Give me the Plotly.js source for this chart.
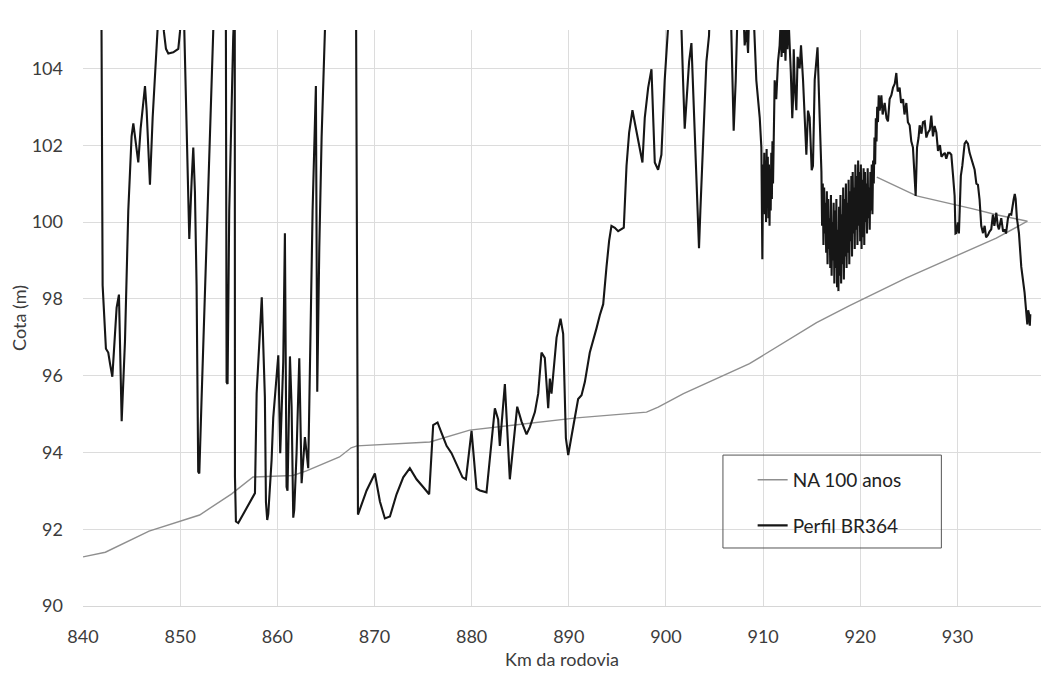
<!DOCTYPE html>
<html>
<head>
<meta charset="utf-8">
<script src="https://cdn.plot.ly/plotly-3.0.1.min.js"></script>
<style>
html,body{margin:0;padding:0;background:#fff;}
#chart{width:1055px;height:678px;}
</style>
</head>
<body>
<div id="chart"></div>
<script>
// Series names
var seriesNames = ['NA 100 anos', 'Perfil BR364'];

// NA 100 anos (water level, 100-year return period)
var kmNA = [840.0, 842.3, 846.8, 852.0, 855.3, 857.5, 861.6, 863.0, 866.4, 867.6, 868.2, 875.7, 879.8, 890.8, 898.0, 899.2, 901.8, 908.6, 915.5, 918.9, 924.7, 931.6, 934.0, 937.2, 934.0, 931.6, 928.9, 925.8, 921.7];
var cotaNA = [91.28, 91.40, 91.95, 92.37, 92.92, 93.36, 93.40, 93.52, 93.88, 94.12, 94.17, 94.27, 94.58, 94.90, 95.05, 95.18, 95.53, 96.31, 97.38, 97.82, 98.54, 99.32, 99.58, 100.02, 100.19, 100.34, 100.49, 100.68, 101.17];

// Perfil BR364 (road profile)
var kmPerfil = [
841.88,841.95,842.02,842.36,842.60,842.78,843.02,843.46,843.70,843.98,844.32,844.66,845.00,845.18,845.45,845.69,845.93,846.21,846.38,846.55,846.89,847.17,847.51,847.85,848.15,848.33,848.54,848.78,849.29,849.81,849.98,850.15,850.35,850.60,850.84,850.94,851.18,851.35,851.52,851.69,851.86,851.97,852.21,852.65,853.06,853.51,854.70,854.78,854.88,855.05,855.46,855.55,855.62,855.64,855.74,855.98,856.49,857.01,857.70,857.87,858.21,858.40,858.72,858.83,858.96,859.07,859.41,859.58,860.10,860.30,860.61,860.78,860.95,861.05,861.30,861.47,861.64,861.74,861.98,862.26,862.50,862.60,862.84,863.18,863.36,863.63,863.97,864.11,864.32,864.56,865.00,868.10,868.30,
869.19,870.04,870.56,871.07,871.59,872.27,872.96,873.64,874.33,875.01,875.63,876.04,876.49,876.90,877.42,877.93,878.44,879.06,879.41,879.99,880.50,880.85,881.53,882.39,882.73,882.90,883.42,883.93,884.69,885.13,885.65,885.99,886.51,886.85,887.19,887.53,887.88,888.05,888.22,888.74,889.15,889.42,889.70,889.94,890.28,890.62,890.96,891.31,891.65,892.16,892.51,892.85,893.19,893.54,893.88,894.15,894.39,894.74,895.08,895.66,895.94,896.21,896.55,896.97,897.31,897.58,897.82,898.17,898.51,898.85,899.19,899.53,899.87,900.22,900.40,901.50,901.59,901.76,901.93,902.10,902.38,902.62,902.79,903.13,903.40,903.54,903.82,904.16,904.43,904.55,906.65,906.73,906.83,906.97,907.18,907.31,907.40,907.93,908.10,908.30,908.45,908.60,908.96,909.30,909.65,909.82,909.92,
910.00,910.06,910.12,910.18,910.24,910.30,910.36,910.42,910.48,910.54,910.60,910.66,910.72,910.78,910.84,910.90,910.96,911.02,911.19,911.35,911.53,911.70,911.80,911.90,912.00,912.10,912.20,912.30,912.40,912.50,912.60,912.73,912.85,913.00,913.08,913.15,913.25,913.42,913.55,913.76,913.90,914.11,914.28,914.45,914.62,914.79,915.00,915.13,915.31,915.48,915.60,915.82,
916.00,916.07,916.14,916.21,916.28,916.35,916.42,916.49,916.56,916.63,916.70,916.77,916.84,916.91,916.98,917.05,917.12,917.19,917.26,917.33,917.40,917.47,917.54,917.61,917.68,917.75,917.82,917.89,917.96,918.03,918.10,918.17,918.24,918.31,918.38,918.45,918.52,918.59,918.66,918.73,918.80,918.87,918.94,919.01,919.08,919.15,919.22,919.29,919.36,919.43,919.50,919.57,919.64,919.71,919.78,919.85,919.92,919.99,920.06,920.13,920.20,920.27,920.34,920.41,920.48,920.55,920.62,920.69,920.76,920.83,920.90,920.97,921.04,921.11,921.18,921.25,921.32,921.39,921.46,921.53,921.60,921.67,921.74,921.82,921.90,922.00,922.17,922.30,922.51,922.70,922.85,923.02,923.20,923.37,923.55,923.71,923.85,924.05,924.20,924.40,924.55,924.74,924.90,925.08,925.25,925.42,925.55,925.70,925.84,926.00,926.11,926.30,926.45,926.63,926.80,926.97,927.15,927.31,927.48,927.65,927.83,928.00,928.20,928.35,928.51,928.70,928.85,929.03,929.20,929.37,929.55,929.71,929.80,929.88,930.05,930.15,930.23,930.35,930.50,930.74,930.90,931.08,931.25,931.43,931.60,931.77,931.95,932.11,932.28,932.45,932.63,932.80,932.95,933.14,933.30,933.48,933.65,933.80,934.00,934.15,934.27,934.40,934.51,934.70,934.85,935.00,935.20,935.35,935.54,935.78,935.90,935.99,936.12,936.33,936.57,936.91,937.08,937.19,937.28,937.36,937.45,937.50];
var cotaPerfil = [
106.5,101.3,98.35,96.70,96.60,96.31,95.97,97.77,98.11,94.81,96.89,100.29,102.23,102.57,102.04,101.55,102.43,103.20,103.54,102.91,100.97,102.72,104.17,105.8,105.8,104.95,104.51,104.39,104.42,104.51,104.95,105.8,105.8,103.20,100.29,99.56,101.07,101.94,100.78,98.35,93.50,93.45,95.44,98.83,102.23,105.8,105.8,95.83,95.78,100.29,104.81,105.8,105.8,93.36,92.20,92.16,92.40,92.65,92.94,95.54,97.40,98.04,95.44,92.70,92.24,92.40,93.80,94.90,96.53,93.98,96.36,99.71,93.10,93.00,96.50,95.20,92.30,92.50,93.98,96.45,93.20,93.50,94.40,93.59,96.40,100.29,103.54,95.58,99.32,102.23,105.8,105.8,92.38,
93.01,93.45,92.72,92.28,92.33,92.91,93.35,93.59,93.30,93.10,92.91,94.71,94.78,94.51,94.17,93.98,93.69,93.35,93.30,94.56,93.06,93.01,92.96,95.15,94.86,94.17,95.78,93.30,95.19,94.81,94.47,94.66,95.05,95.53,96.60,96.46,95.15,95.92,95.53,96.99,97.48,97.09,94.37,93.93,94.42,94.95,95.39,95.49,95.83,96.60,96.89,97.23,97.57,97.86,98.83,99.51,99.90,99.85,99.76,99.85,101.46,102.33,102.91,102.33,101.94,101.55,102.72,103.50,103.98,101.55,101.36,101.75,103.69,104.85,105.8,105.8,104.80,103.69,102.43,103.20,104.17,104.66,103.40,101.26,99.32,100.29,102.23,104.17,104.85,105.8,105.8,104.90,103.20,102.38,103.69,104.85,105.8,105.8,104.60,105.00,104.40,105.8,105.8,103.69,102.72,101.94,99.03,
101.50,100.78,101.80,100.20,101.60,100.00,101.90,100.40,101.70,100.10,101.50,99.90,101.30,100.30,101.80,100.60,102.10,101.00,103.69,103.20,104.17,104.60,105.20,104.30,105.30,104.40,105.10,104.20,105.20,104.50,105.40,104.80,103.90,102.70,103.20,104.50,103.60,102.91,104.30,104.00,104.60,103.69,102.72,101.75,102.90,102.72,101.35,101.46,103.70,104.17,104.55,102.72,
101.30,99.90,101.00,99.40,100.90,99.70,100.50,99.20,100.80,98.90,100.60,99.30,100.10,98.80,100.70,98.60,100.00,99.00,100.50,98.40,100.30,98.80,100.60,98.30,99.80,98.20,100.40,98.60,100.70,98.40,100.20,98.90,100.90,98.50,100.60,99.10,101.00,98.80,100.50,99.20,101.10,98.90,100.80,99.50,101.20,99.10,101.30,99.70,100.90,99.30,101.50,99.80,101.20,99.40,101.60,99.90,101.30,99.50,101.50,99.30,101.10,99.60,101.40,99.40,101.30,100.00,101.00,99.70,101.40,100.10,100.90,99.80,101.30,100.30,101.50,100.20,101.60,101.00,102.20,101.50,102.70,102.10,103.00,102.60,103.30,102.90,103.30,102.80,103.10,102.70,102.62,103.20,103.30,103.50,103.60,103.88,103.40,103.50,103.10,103.20,102.80,103.10,102.60,102.52,102.10,101.94,101.30,100.68,101.94,102.20,102.52,102.30,102.60,102.62,102.20,102.33,102.40,102.77,102.23,102.50,102.33,101.85,102.00,101.70,101.75,101.80,101.65,101.80,101.80,101.75,101.20,100.68,99.70,99.71,99.99,99.70,100.29,101.20,101.46,102.04,102.10,102.04,101.80,101.65,101.50,101.36,101.00,100.97,100.58,99.90,99.71,99.90,99.60,99.66,99.75,99.81,100.19,99.90,100.24,99.90,99.81,100.00,100.10,99.75,99.81,99.70,100.10,100.20,100.19,100.58,100.73,100.60,100.10,99.71,98.83,98.16,97.67,97.33,97.70,97.61,97.30,97.60];

// Axis ticks
var xTicks = [840, 850, 860, 870, 880, 890, 900, 910, 920, 930];
var yTicks = [90, 92, 94, 96, 98, 100, 102, 104];

var fontFam = 'Lato, "Open Sans", sans-serif';
var txt = '#3c3c3c';

var traces = [
  {x: kmNA, y: cotaNA, name: seriesNames[0], type: 'scatter', mode: 'lines',
   line: {color: '#8f8f8f', width: 1.4}, legendgroup: 'a'},
  {x: kmPerfil, y: cotaPerfil, name: seriesNames[1], type: 'scatter', mode: 'lines',
   line: {color: '#161616', width: 2.1}, legendgroup: 'b'}
];

var layout = {
  width: 1055, height: 678,
  margin: {l: 83, r: 14, t: 30, b: 72},
  paper_bgcolor: '#ffffff', plot_bgcolor: '#ffffff',
  font: {family: fontFam, color: txt, size: 18},
  showlegend: true,
  legend: {x: 0.699, xanchor: 'left', y: 0.252, yanchor: 'top',
           bgcolor: 'rgba(0,0,0,0)', borderwidth: 0,
           font: {family: fontFam, size: 19, color: '#222'},
           tracegroupgap: 18, itemwidth: 30},
  xaxis: {range: [840, 938.6], tickmode: 'array', tickvals: xTicks,
          ticktext: xTicks.map(String),
          showgrid: true, gridcolor: '#dcdcdc', gridwidth: 1,
          showline: true, linecolor: '#d6d6d6', linewidth: 1, zeroline: false,
          ticks: '', ticklabelstandoff: 14,
          tickfont: {size: 18, color: txt},
          title: {text: 'Km da rodovia', font: {size: 18, color: txt}, standoff: 7}},
  yaxis: {range: [90, 105], tickmode: 'array', tickvals: yTicks,
          ticktext: yTicks.map(String),
          showgrid: true, gridcolor: '#dcdcdc', gridwidth: 1,
          showline: false, zeroline: false,
          ticks: '', ticklabelstandoff: 19,
          tickfont: {size: 18, color: txt},
          title: {text: 'Cota (m)', font: {size: 18, color: txt}, standoff: 0}},
  shapes: [
    {type: 'rect', xref: 'paper', yref: 'paper', x0: 0.668, x1: 0.896, y0: 0.1007, y1: 0.262,
     line: {color: '#555555', width: 1}, fillcolor: 'rgba(0,0,0,0)', layer: 'above'}
  ]
};

Plotly.newPlot('chart', traces, layout, {displayModeBar: false, staticPlot: true});
</script>
</body>
</html>
